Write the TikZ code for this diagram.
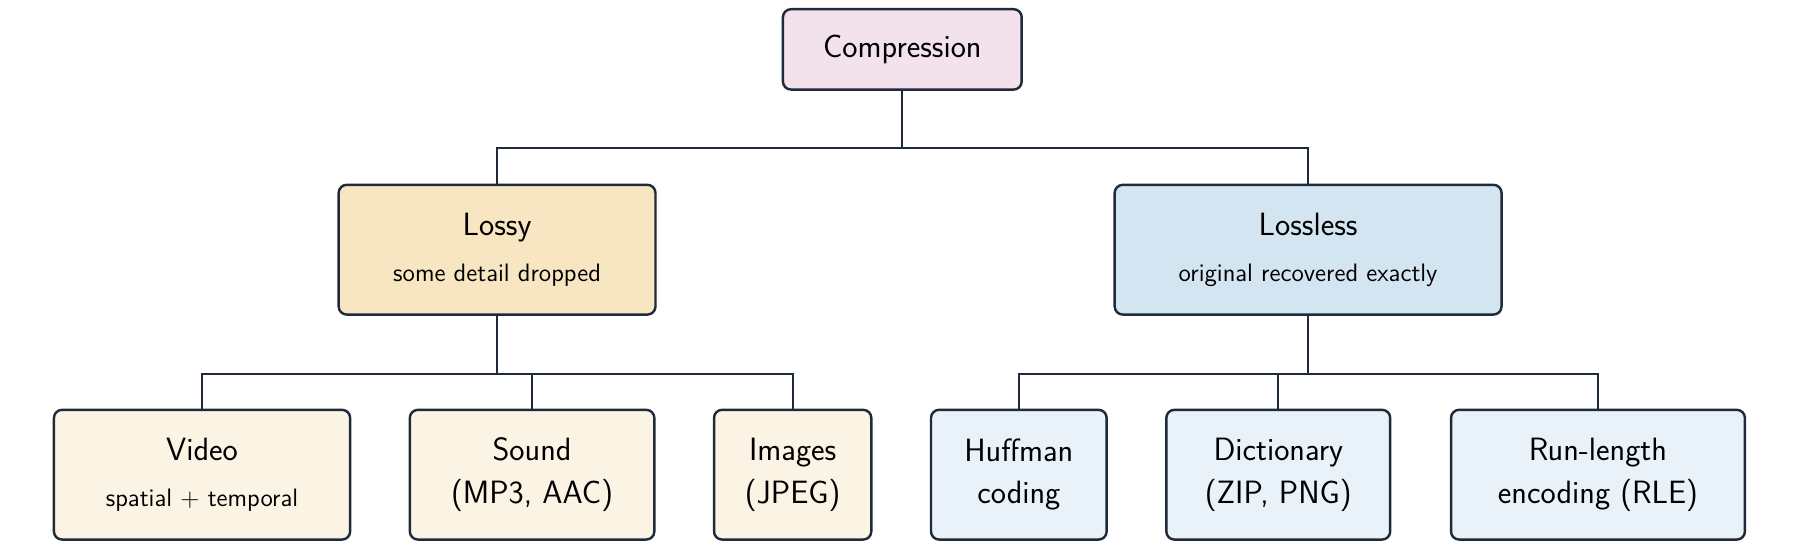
\documentclass[tikz,border=0pt]{standalone}
\usetikzlibrary{positioning}
\definecolor{edgec}{HTML}{1F2A3A}
\definecolor{rootc}{HTML}{F3E1EB}
\definecolor{lossyc}{HTML}{F8E6C2}
\definecolor{losslessc}{HTML}{D3E5F0}
\definecolor{lossyleaf}{HTML}{FBF3E4}
\definecolor{losslessleaf}{HTML}{E9F2F8}
\newcommand\smalltxt[1]{{\sffamily\fontsize{12.5}{15}\selectfont #1}}
\tikzset{
  box/.style={draw=edgec, line width=1.2pt, rounded corners=4pt, align=center,
    font=\sffamily\fontsize{16}{21}\selectfont, inner sep=2pt},
  link/.style={draw=edgec, line width=1pt}
}
\begin{document}
\begin{tikzpicture}
  \useasboundingbox (0,0) rectangle (31.36,-9.6);
  % top level
  \node[box, fill=rootc, minimum width=4.16cm, minimum height=1.4cm] (comp) at (15.72,-0.86) {Compression};
  \node[box, fill=lossyc, minimum width=5.52cm, minimum height=2.26cm] (lossy) at (8.66,-4.35)
    {Lossy\\[2pt]\smalltxt{some detail dropped}};
  \node[box, fill=losslessc, minimum width=6.74cm, minimum height=2.26cm] (lossless) at (22.79,-4.35)
    {Lossless\\[2pt]\smalltxt{original recovered exactly}};
  % leaves
  \begin{scope}[every node/.append style={minimum height=2.26cm}]
    \node[box, fill=lossyleaf, minimum width=5.16cm] (video) at (3.52,-8.27)
      {Video\\[2pt]\smalltxt{spatial + temporal}};
    \node[box, fill=lossyleaf, minimum width=4.26cm] (sound) at (9.27,-8.27) {Sound\\(MP3, AAC)};
    \node[box, fill=lossyleaf, minimum width=2.74cm] (images) at (13.81,-8.27) {Images\\(JPEG)};
    \node[box, fill=losslessleaf, minimum width=3.06cm] (huff) at (17.75,-8.27) {Huffman\\coding};
    \node[box, fill=losslessleaf, minimum width=3.9cm] (dict) at (22.27,-8.27) {Dictionary\\(ZIP, PNG)};
    \node[box, fill=losslessleaf, minimum width=5.12cm] (rle) at (27.84,-8.27) {Run-length\\encoding (RLE)};
  \end{scope}
  % connectors
  \path[link] (comp.south) |- (8.66,-2.58) -- (lossy.north);
  \path[link] (comp.south) |- (22.79,-2.58) -- (lossless.north);
  \foreach \leaf in {video,sound,images}
    \path[link] (lossy.south) |- ([yshift=-1.02cm]lossy.south -| \leaf.north) -- (\leaf.north);
  \foreach \leaf in {huff,dict,rle}
    \path[link] (lossless.south) |- ([yshift=-1.02cm]lossless.south -| \leaf.north) -- (\leaf.north);
\end{tikzpicture}
\end{document}
